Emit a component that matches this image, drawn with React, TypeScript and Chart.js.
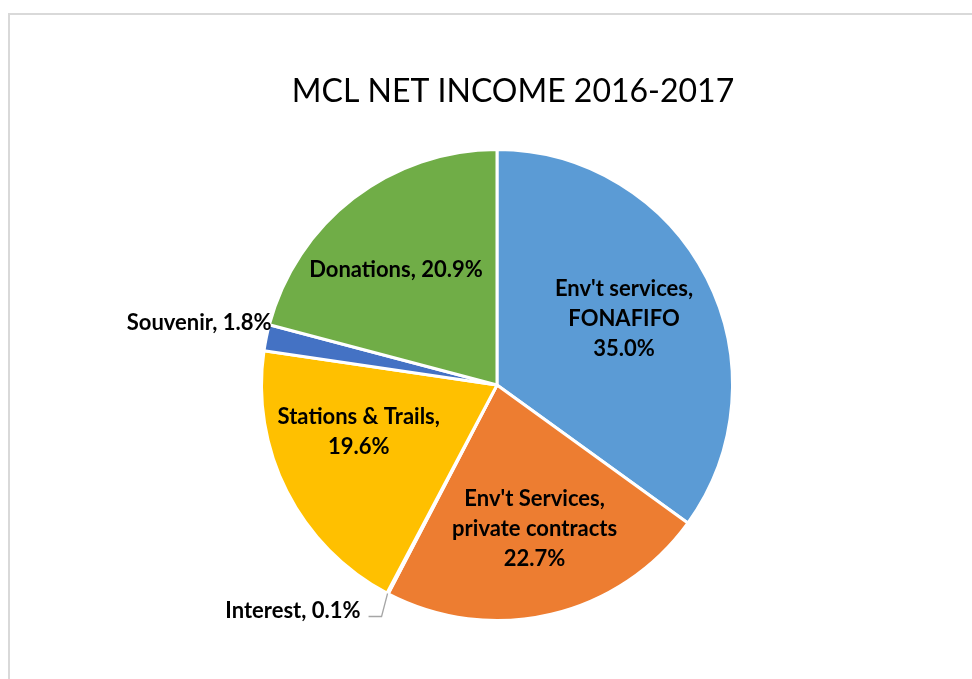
import React, { useEffect, useRef } from "react";
import { Chart, registerables } from "chart.js";

Chart.register(...registerables);

const title = "MCL NET INCOME 2016-2017";
const categories = [
  "Env't services, FONAFIFO",
  "Env't Services, private contracts",
  "Interest",
  "Stations & Trails",
  "Souvenir",
  "Donations",
];
const values = [35.0, 22.7, 0.1, 19.6, 1.8, 20.9];
const colors = ["#5B9BD5", "#ED7D31", "#A5A5A5", "#FFC000", "#4472C4", "#70AD47"];
// how each data label is wrapped (category, value)
const labelLines = [
  ["Env't services,", "FONAFIFO", "35.0%"],
  ["Env't Services,", "private contracts", "22.7%"],
  ["Interest, 0.1%"],
  ["Stations & Trails,", "19.6%"],
  ["Souvenir, 1.8%"],
  ["Donations, 20.9%"],
];
// small best-fit nudges of the inside labels (px)
const labelNudge = [
  [-3, 0],
  [4, 2],
  [0, 0],
  [-8, -19],
  [0, 0],
  [-12, 1],
];

const FONT = "Lato, 'Open Sans', sans-serif";

const framePlugin = {
  id: "frame",
  beforeDraw(chart: any) {
    const ctx = chart.ctx;
    ctx.save();
    ctx.fillStyle = "#FFFFFF";
    ctx.fillRect(0, 0, chart.width, chart.height);
    ctx.strokeStyle = "#D9D9D9";
    ctx.lineWidth = 2;
    ctx.strokeRect(9, 14, 1010, 700);
    ctx.fillStyle = "#000000";
    ctx.font = `32px ${FONT}`;
    ctx.textAlign = "center";
    ctx.textBaseline = "alphabetic";
    ctx.fillText(title, 513, 102);
    ctx.restore();
  },
};

const labelPlugin = {
  id: "sliceLabels",
  afterDatasetsDraw(chart: any) {
    const ctx = chart.ctx;
    const meta = chart.getDatasetMeta(0);
    ctx.save();
    ctx.font = `bold 22px ${FONT}`;
    ctx.fillStyle = "#000000";
    ctx.textBaseline = "middle";
    const lh = 30;
    meta.data.forEach((arc: any, i: number) => {
      const { x, y, startAngle, endAngle, outerRadius } = arc.getProps(
        ["x", "y", "startAngle", "endAngle", "outerRadius"],
        true
      );
      const mid = (startAngle + endAngle) / 2;
      const lines = labelLines[i];
      const v = values[i];
      if (v >= 5) {
        const r = outerRadius * 0.62;
        const cx = x + Math.cos(mid) * r + labelNudge[i][0];
        const cy = y + Math.sin(mid) * r + labelNudge[i][1];
        ctx.textAlign = "center";
        lines.forEach((t, k) => {
          ctx.fillText(t, cx, cy + (k - (lines.length - 1) / 2) * lh);
        });
      } else if (v >= 1) {
        // outside, no leader
        const px = x + Math.cos(mid) * (outerRadius + 6);
        const py = y + Math.sin(mid) * (outerRadius + 6);
        ctx.textAlign = "right";
        ctx.fillText(lines[0], px + 11, py - 14);
      } else {
        const px = x + Math.cos(mid) * outerRadius;
        const py = y + Math.sin(mid) * outerRadius;
        const ex = px - 6;
        const ey = py + 23;
        ctx.strokeStyle = "#A6A6A6";
        ctx.lineWidth = 1.3;
        ctx.beginPath();
        ctx.moveTo(px, py);
        ctx.lineTo(ex, ey);
        ctx.lineTo(ex - 13, ey);
        ctx.stroke();
        ctx.textAlign = "right";
        ctx.fillText(lines[0], ex - 21, ey - 6);
      }
    });
    ctx.restore();
  },
};

export default function App() {
  const ref = useRef<HTMLCanvasElement | null>(null);
  useEffect(() => {
    if (!ref.current) return;
    const chart = new Chart(ref.current, {
      type: "pie",
      data: {
        labels: categories,
        datasets: [
          {
            data: values,
            backgroundColor: colors,
            borderColor: "#FFFFFF",
            borderWidth: 3,
          },
        ],
      },
      options: {
        responsive: false,
        animation: false,
        layout: { padding: { top: 148, bottom: 57, left: 258, right: 236 } },
        plugins: {
          legend: { display: false },
          title: { display: false },
          tooltip: { enabled: false },
        },
      },
      plugins: [framePlugin, labelPlugin],
    });
    return () => chart.destroy();
  }, []);
  return (
    <div style={{ position: "fixed", left: 0, top: 0, width: 972, height: 679 }}>
      <canvas ref={ref} width={972} height={679} style={{ width: 972, height: 679 }} />
    </div>
  );
}
